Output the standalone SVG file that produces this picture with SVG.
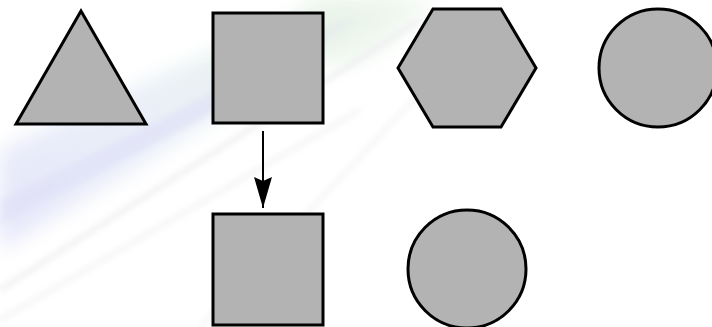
<svg xmlns="http://www.w3.org/2000/svg" width="712" height="327" viewBox="0 0 712 327">
  <style>
    .shape { fill: #b3b3b3; stroke: #000; stroke-width: 3; stroke-linejoin: miter; }
    .edge { stroke: #000; stroke-width: 2; fill: none; }
  </style>
  <defs>
    <filter id="blur" x="-20%" y="-20%" width="140%" height="140%">
      <feGaussianBlur stdDeviation="10"/>
    </filter>
    <filter id="blurS" x="-20%" y="-20%" width="140%" height="140%">
      <feGaussianBlur stdDeviation="3"/>
    </filter>
    <linearGradient id="bandG" x1="0" y1="1" x2="1" y2="0">
      <stop offset="0" stop-color="#dedef8"/>
      <stop offset="0.45" stop-color="#e3eaf6"/>
      <stop offset="0.8" stop-color="#e2efe4"/>
      <stop offset="1" stop-color="#f2f7ef"/>
    </linearGradient>
    <marker id="arrow" viewBox="0 0 31 18" refX="31" refY="9" markerWidth="31" markerHeight="18" markerUnits="userSpaceOnUse" orient="auto">
      <path d="M0,0 L31,9 L0,18 L4,9 Z" fill="#000"/>
    </marker>
  </defs>
  <rect width="712" height="327" fill="#ffffff"/>
  <g id="background" opacity="0.75">
    <polygon points="0,150 0,250 230,110 420,0 330,0 150,80" fill="url(#bandG)" filter="url(#blur)"/>
    <polygon points="0,200 0,225 200,120 360,20 340,20 180,110" fill="#d4d4f4" filter="url(#blurS)" opacity="0.6"/>
    <polygon points="300,0 440,0 370,60 330,70" fill="#e0f0e0" filter="url(#blur)" opacity="0.6"/>
    <line x1="0" y1="290" x2="420" y2="20" stroke="#e6e6ea" stroke-width="4" filter="url(#blurS)"/>
    <line x1="0" y1="320" x2="360" y2="110" stroke="#eeeef2" stroke-width="4" filter="url(#blurS)"/>
    <line x1="200" y1="327" x2="470" y2="40" stroke="#f0f4f0" stroke-width="5" filter="url(#blurS)"/>
  </g>
  <g id="connectors">
    <line class="edge" x1="263" y1="131" x2="263" y2="208" marker-end="url(#arrow)"/>
  </g>
  <g id="triangle">
    <polygon class="shape" points="81,11 146,124 16,124"/>
  </g>
  <g id="square1">
    <rect class="shape" x="213" y="13" width="110" height="110"/>
  </g>
  <g id="hexagon">
    <polygon class="shape" points="398,68 433,9 501,9 536,68 501,127 433,127"/>
  </g>
  <g id="circle1">
    <circle class="shape" cx="658" cy="68" r="59"/>
  </g>
  <g id="square2">
    <rect class="shape" x="213" y="214" width="110" height="111"/>
  </g>
  <g id="circle2">
    <circle class="shape" cx="467" cy="269" r="59"/>
  </g>
</svg>
